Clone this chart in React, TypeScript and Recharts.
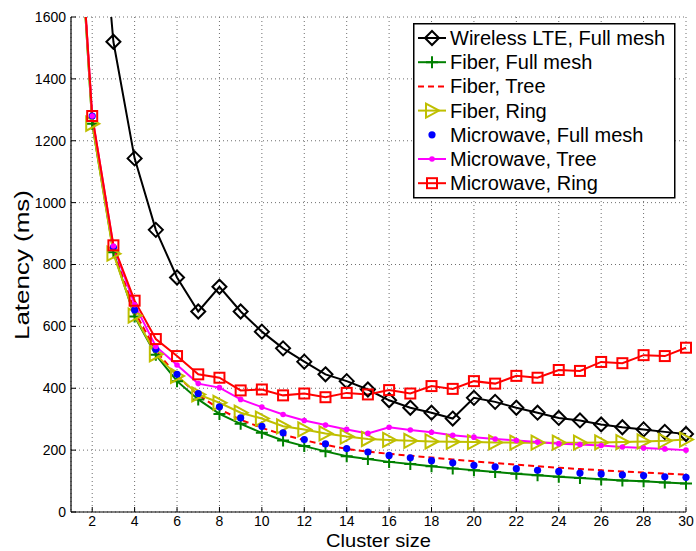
import { CartesianGrid, Legend, Line, LineChart, XAxis, YAxis } from "recharts";

// cluster size on the x axis
const clusterSizes = [
  1, 2, 3, 4, 5, 6, 7, 8, 9, 10, 11, 12, 13, 14, 15, 16, 17, 18, 19, 20, 21,
  22, 23, 24, 25, 26, 27, 28, 29, 30
];

// latency in ms
const lteFullMesh = [
  null, 2300, 1520, 1143, 912, 758, 648, 728, 648, 583, 529, 486, 445, 423,
  396, 361, 337, 321, 302, 369, 356, 337, 321, 304, 296, 283, 274, 267, 259, 252
];
const fiberFullMesh = [
  2350, 1255, 840, 632, 508, 423, 364, 317, 285, 256, 231, 213, 196, 180, 171,
  162, 155, 148, 141, 135, 129, 124, 119, 114, 110, 106, 102, 99, 95, 92
];
const fiberTree = [
  2350, 1275, 850, 648, 522, 440, 378, 333, 298, 272, 250, 232, 217, 204, 195,
  188, 182, 176, 170, 164, 158, 153, 148, 143, 139, 135, 131, 128, 124, 121
];
const fiberRing = [
  2350, 1255, 835, 635, 510, 440, 380, 353, 321, 302, 277, 267, 254, 244, 236,
  233, 230, 228, 227, 226, 225, 224, 224, 224, 224, 225, 226, 228, 230, 234
];
const microwaveFullMesh = [
  2350, 1280, 855, 653, 526, 445, 383, 340, 304, 277, 256, 234, 220, 205, 194,
  183, 175, 166, 159, 151, 146, 140, 135, 131, 126, 123, 120, 118, 114, 112
];
const microwaveTree = [
  2350, 1280, 860, 670, 535, 475, 415, 402, 364, 339, 315, 296, 281, 267, 254,
  274, 265, 258, 248, 242, 236, 231, 226, 221, 218, 215, 210, 207, 204, 200
];
const microwaveRing = [
  2350, 1280, 862, 683, 559, 504, 445, 434, 393, 396, 377, 383, 371, 385, 380,
  394, 383, 407, 398, 423, 415, 440, 434, 459, 456, 485, 481, 507, 504, 531
];

const xTicks = [2, 4, 6, 8, 10, 12, 14, 16, 18, 20, 22, 24, 26, 28, 30];
const yTicks = [0, 200, 400, 600, 800, 1000, 1200, 1400, 1600];

const chartData = clusterSizes.map((size, i) => ({
  size,
  lte: lteFullMesh[i],
  fiberFull: fiberFullMesh[i],
  fiberTree: fiberTree[i],
  fiberRing: fiberRing[i],
  mwFull: microwaveFullMesh[i],
  mwTree: microwaveTree[i],
  mwRing: microwaveRing[i]
}));

type Shape = "diamond" | "plus" | "none" | "triangle" | "dot" | "smalldot" | "square";

type SeriesDef = {
  key: string;
  name: string;
  color: string;
  shape: Shape;
  dashed?: boolean;
  noLine?: boolean;
};

const series: SeriesDef[] = [
  { key: "lte", name: "Wireless LTE, Full mesh", color: "#000000", shape: "diamond" },
  { key: "fiberFull", name: "Fiber, Full mesh", color: "#008000", shape: "plus" },
  { key: "fiberTree", name: "Fiber, Tree", color: "#ff0000", shape: "none", dashed: true },
  { key: "fiberRing", name: "Fiber, Ring", color: "#bfbf00", shape: "triangle" },
  { key: "mwFull", name: "Microwave, Full mesh", color: "#0000ff", shape: "dot", noLine: true },
  { key: "mwTree", name: "Microwave, Tree", color: "#ff00ff", shape: "smalldot" },
  { key: "mwRing", name: "Microwave, Ring", color: "#ff0000", shape: "square" }
];

const FONT = "'Liberation Sans', Arial, Helvetica, sans-serif";

function Marker({ shape, color, cx, cy }: { shape: Shape; color: string; cx: number; cy: number }) {
  switch (shape) {
    case "diamond":
      return (
        <path
          d={`M${cx} ${cy - 7}L${cx + 7} ${cy}L${cx} ${cy + 7}L${cx - 7} ${cy}Z`}
          fill="none"
          stroke={color}
          strokeWidth={2}
        />
      );
    case "plus":
      return (
        <path
          d={`M${cx - 6} ${cy}H${cx + 6}M${cx} ${cy - 6}V${cy + 6}`}
          stroke={color}
          strokeWidth={2}
        />
      );
    case "triangle":
      return (
        <path
          d={`M${cx - 6} ${cy - 7}L${cx + 7} ${cy}L${cx - 6} ${cy + 7}Z`}
          fill="none"
          stroke={color}
          strokeWidth={2}
        />
      );
    case "dot":
      return <circle cx={cx} cy={cy} r={3.6} fill={color} stroke="none" />;
    case "smalldot":
      return <circle cx={cx} cy={cy} r={2.8} fill={color} stroke="none" />;
    case "square":
      return (
        <rect x={cx - 5} y={cy - 5} width={10} height={10} fill="none" stroke={color} strokeWidth={2} />
      );
    default:
      return <g />;
  }
}

function makeDot(shape: Shape, color: string) {
  return (props: any) => {
    const { cx, cy, index } = props;
    if (cx == null || cy == null || shape === "none") return <g key={`d-${index}`} />;
    return (
      <g key={`d-${index}`}>
        <Marker shape={shape} color={color} cx={cx} cy={cy} />
      </g>
    );
  };
}

function LegendBox() {
  const rowH = 24.2;
  return (
    <svg width={263} height={176} style={{ display: "block" }}>
      <rect x={0.75} y={0.75} width={261} height={174} fill="#ffffff" stroke="#000000" strokeWidth={1.5} />
      {series.map((s, i) => {
        const cy = 15 + i * rowH;
        return (
          <g key={s.key}>
            {!s.noLine && (
              <line
                x1={5}
                x2={33}
                y1={cy}
                y2={cy}
                stroke={s.color}
                strokeWidth={2}
                strokeDasharray={s.dashed ? "6 4" : undefined}
              />
            )}
            <Marker shape={s.shape} color={s.color} cx={19} cy={cy} />
            <text x={37} y={cy + 7} fontSize={20} fontFamily={FONT} fill="#000">
              {s.name}
            </text>
          </g>
        );
      })}
    </svg>
  );
}

function YTitle() {
  const cx = 22;
  const cy = 265;
  return (
    <text
      x={cx}
      y={cy}
      transform={`rotate(-90 ${cx} ${cy})`}
      textAnchor="middle"
      dominantBaseline="central"
      fontSize={20}
      fontFamily={FONT}
      textLength={150}
      lengthAdjust="spacingAndGlyphs"
      fill="#000"
    >
      Latency (ms)
    </text>
  );
}

function XTitle(props: any) {
  const vb = props.viewBox || {};
  const cx = (vb.x ?? 71) + (vb.width ?? 615) / 2;
  return (
    <text
      x={cx}
      y={547}
      textAnchor="middle"
      fontSize={19}
      fontFamily={FONT}
      textLength={105}
      lengthAdjust="spacingAndGlyphs"
      fill="#000"
    >
      Cluster size
    </text>
  );
}

export default function App() {
  return (
    <div style={{ position: "fixed", left: 0, top: 0, width: 696, height: 551, background: "#fff" }}>
      <LineChart
        width={696}
        height={551}
        data={chartData}
        margin={{ top: 17, right: 10, bottom: 0, left: 0 }}
        style={{ fontFamily: FONT }}
      >
        <CartesianGrid stroke="#6e6e6e" strokeDasharray="1 3" strokeWidth={1} />
        <XAxis
          dataKey="size"
          type="number"
          domain={[1, 30]}
          ticks={xTicks}
          interval={0}
          height={39}
          axisLine={{ stroke: "#000", strokeWidth: 1.2 }}
          tickLine={{ stroke: "#000" }}
          tickSize={-5}
          tickMargin={9}
          tick={{ fontSize: 14, fill: "#000", fontFamily: FONT }}
          label={{ content: XTitle }}
        />
        <YAxis
          type="number"
          domain={[0, 1600]}
          allowDataOverflow
          ticks={yTicks}
          interval={0}
          width={71}
          axisLine={{ stroke: "#000", strokeWidth: 1.2 }}
          tickLine={{ stroke: "#000" }}
          tickSize={-5}
          tickMargin={10}
          tick={{ fontSize: 14, fill: "#000", fontFamily: FONT }}
          label={{ content: YTitle }}
        />
        {series.map((s) => (
          <Line
            key={s.key}
            type="linear"
            dataKey={s.key}
            name={s.name}
            stroke={s.noLine ? "none" : s.color}
            strokeWidth={2}
            strokeDasharray={s.dashed ? "6 4" : undefined}
            dot={makeDot(s.shape, s.color)}
            activeDot={false}
            connectNulls={false}
            isAnimationActive={false}
          />
        ))}
        <Legend
          layout="horizontal"
          verticalAlign="middle"
          align="center"
          wrapperStyle={{ left: 413, top: 23, width: 263, height: 176 }}
          content={() => <LegendBox />}
        />
      </LineChart>
    </div>
  );
}
